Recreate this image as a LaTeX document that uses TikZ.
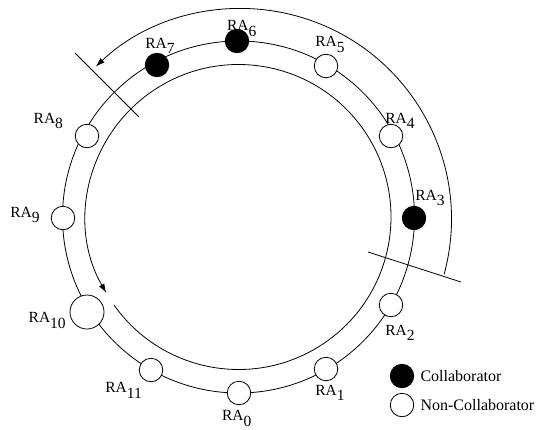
\documentclass[tikz,border=0pt]{standalone}
\usepackage{fontspec}
\setmainfont{Liberation Serif}
\usetikzlibrary{arrows.meta,positioning}
\newcommand{\ralab}[1]{RA\raisebox{-0.36em}{#1}}
\tikzset{
  agent/.style={circle, draw, fill=white, minimum size=23.5pt, inner sep=0pt},
  collab/.style={agent, fill=black},
  lab/.style={font=\fontsize{15.5}{18}\selectfont, inner sep=0pt, anchor=base west},
  keytext/.style={font=\fontsize{16}{19}\selectfont, inner sep=0pt},
  tip/.style={-{Latex[length=9pt,width=6pt]}},
}
\begin{document}
\begin{tikzpicture}[x=1pt,y=1pt,line width=0.8pt]
  \useasboundingbox (-238.5,-212) rectangle (306.5,217);
  % ring and travel directions
  \draw (0,0) circle[radius=176];
  \draw[tip] (215.3:152.5) arc[start angle=215.3, end angle=569.8, radius=152.5];
  \draw[tip] ([shift={(2.5,-2)}]-15.2:210.5)
    arc[start angle=-15.2, end angle=133.6, radius=210.5];
  % cut marks
  \coordinate (cutA1) at (-163.5,164);
  \coordinate (cutA2) at (-99.5,100);
  \coordinate (cutB1) at (129.5,-35);
  \coordinate (cutB2) at (222.5,-65);
  \draw (cutA1) -- (cutA2);
  \draw (cutB1) -- (cutB2);
  % agents on the ring
  \node[agent] (ra0) at (0.5,-176) {};
  \node[agent] (ra1) at (87.5,-152) {};
  \node[agent] (ra2) at (152.5,-88) {};
  \node[collab] (ra3) at (175.5,-1) {};
  \node[agent] (ra4) at (152.5,81) {};
  \node[agent] (ra5) at (87.5,151) {};
  \node[collab] (ra6) at (-1.5,176) {};
  \node[collab] (ra7) at (-81.5,152) {};
  \node[agent] (ra8) at (-151.5,81) {};
  \node[agent] (ra9) at (-175.5,-1) {};
  \node[agent, minimum size=34pt] (ra10) at (-151.5,-95) {};
  \node[agent] (ra11) at (-87.5,-153) {};
  % names
  \node[lab] (l0) at (-16.8,-203.7) {\ralab{0}};
  \node[lab] (l1) at (76.5,-178) {\ralab{1}};
  \node[lab] (l2) at (146.5,-118) {\ralab{2}};
  \node[lab] (l3) at (176.5,17) {\ralab{3}};
  \node[lab] (l4) at (146.5,93.7) {\ralab{4}};
  \node[lab] (l5) at (76.5,170.3) {\ralab{5}};
  \node[lab] (l6) at (-11.8,186.3) {\ralab{6}};
  \node[lab] (l7) at (-93.5,168.7) {\ralab{7}};
  \node[lab] (l8) at (-205.2,93.7) {\ralab{8}};
  \node[lab] (l9) at (-228.5,-0.3) {\ralab{9}};
  \node[lab] (l10) at (-210.2,-105.7) {\ralab{10}};
  \node[lab] (l11) at (-133.5,-175.7) {\ralab{11}};
  % legend
  \node[collab] (key1) at (163.5,-159) {};
  \node[agent] (key2) at (163.5,-188) {};
  \node[keytext, right=6pt of key1] (keytext1) {Collaborator};
  \node[keytext, right=6pt of key2] (keytext2) {Non-Collaborator};
\end{tikzpicture}
\end{document}
